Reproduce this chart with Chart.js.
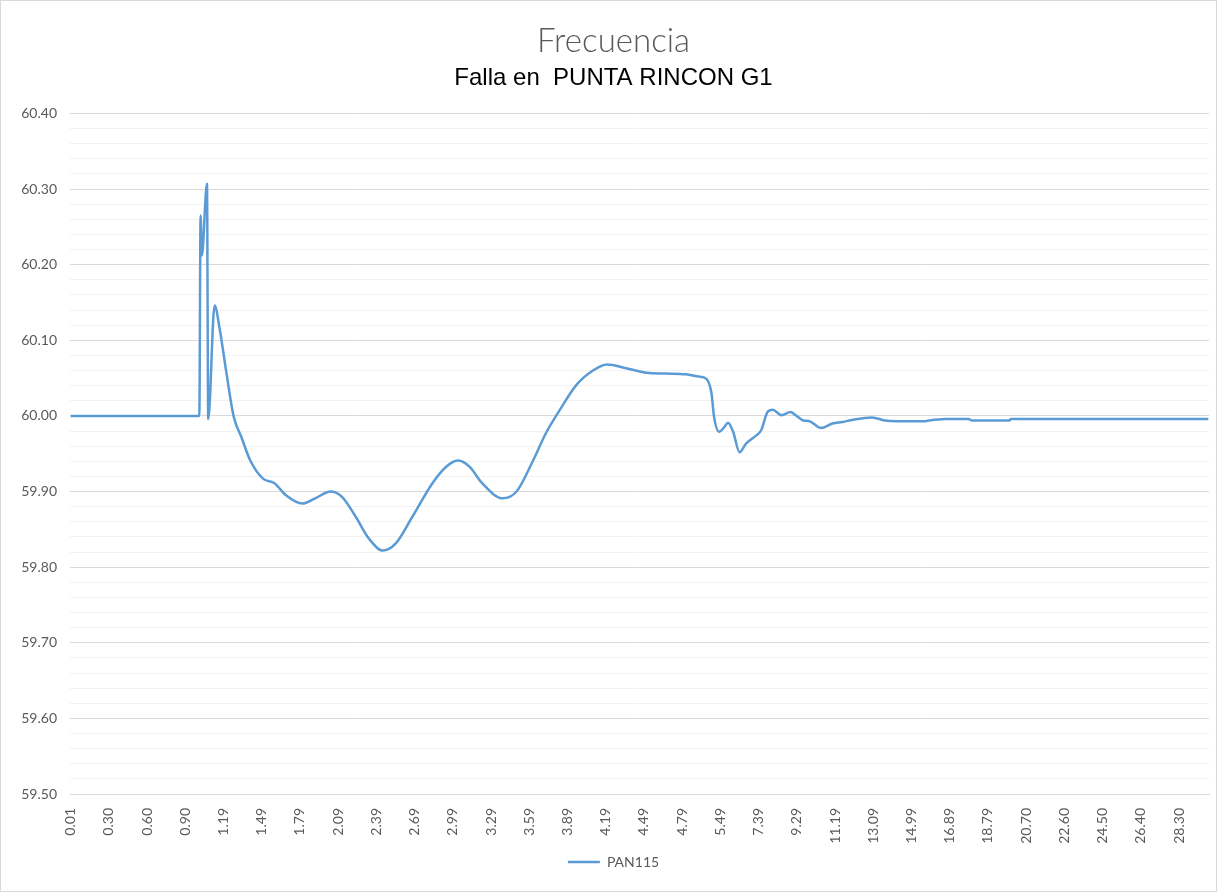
<!DOCTYPE html>
<html>
<head>
<meta charset="utf-8">
<script src="https://cdn.jsdelivr.net/npm/chart.js@4"></script>
<style>
  body { margin: 0; background: #fff; }
</style>
</head>
<body>
<canvas id="frecuencia" width="1217" height="892"></canvas>
<script>
// category labels shown every 30 samples (time in s)
const tickLabels = [
  "0.01", "0.30", "0.60", "0.90", "1.19", "1.49", "1.79", "2.09", "2.39", "2.69",
  "2.99", "3.29", "3.59", "3.89", "4.19", "4.49", "4.79", "5.49", "7.39", "9.29",
  "11.19", "13.09", "14.99", "16.89", "18.79", "20.70", "22.60", "24.50", "26.40", "28.30"
];
const TICK_EVERY = 30;
const LAST_SAMPLE = 893;

// sample number (category index) and frequency in Hz
const sampleIndex = [
  0, 101, 102, 103, 107, 108, 113, 117, 122, 128,
  134, 141, 151, 160, 169, 182, 192, 204, 213, 224,
  234, 245, 255, 268, 284, 295, 304, 313, 323, 339,
  350, 363, 373, 384, 397, 410, 421, 436, 452, 467,
  483, 493, 499, 503, 505, 509, 513, 516, 520, 525,
  530, 538, 542, 547, 551, 558, 565, 569, 575, 580,
  589, 598, 606, 614, 629, 639, 648, 671, 674, 687,
  705, 707, 737, 738, 893
];
const frecuencia = [
  60.000, 60.000, 60.265, 60.212, 60.307, 59.996, 60.146, 60.115, 60.060, 59.999,
  59.972, 59.941, 59.917, 59.911, 59.895, 59.884, 59.891, 59.900, 59.893, 59.866,
  59.838, 59.822, 59.831, 59.866, 59.911, 59.933, 59.941, 59.933, 59.911, 59.891,
  59.900, 59.941, 59.977, 60.008, 60.041, 60.060, 60.068, 60.063, 60.057, 60.056,
  60.055, 60.052, 60.049, 60.030, 59.999, 59.979, 59.985, 59.991, 59.979, 59.952,
  59.963, 59.974, 59.981, 60.005, 60.008, 60.001, 60.005, 60.001, 59.994, 59.993,
  59.984, 59.990, 59.992, 59.995, 59.998, 59.994, 59.993, 59.993, 59.994, 59.996,
  59.996, 59.994, 59.994, 59.996, 59.996
];

const majorGrid = "#d9d9d9";
const minorGrid = "#f2f2f2";
const textGray = "#595959";

function isMajor(v) {
  return Math.round(v * 100) % 10 === 0;
}

// white background + thin frame like the excel chart area
const chartBorder = {
  id: "chartBorder",
  beforeDraw(chart) {
    const { ctx, width, height } = chart;
    ctx.save();
    ctx.fillStyle = "#fff";
    ctx.fillRect(0, 0, width, height);
    ctx.strokeStyle = majorGrid;
    ctx.lineWidth = 1;
    ctx.strokeRect(0.5, 0.5, width - 1, height - 1);
    ctx.restore();
  }
};

new Chart(document.getElementById("frecuencia"), {
  type: "line",
  data: {
    datasets: [{
      label: "PAN115",
      data: sampleIndex.map((x, i) => ({ x: x, y: frecuencia[i] })),
      borderColor: "#5b9bd5",
      backgroundColor: "#5b9bd5",
      borderWidth: 2.5,
      pointRadius: 0,
      cubicInterpolationMode: "monotone",
      fill: false
    }]
  },
  plugins: [chartBorder],
  options: {
    responsive: false,
    animation: false,
    layout: { padding: { left: 18, right: 8, top: 0, bottom: 13 } },
    plugins: {
      title: {
        display: true,
        text: "Frecuencia",
        color: textGray,
        font: { family: "Lato", weight: 300, size: 33 },
        padding: { top: 22, bottom: 2 }
      },
      subtitle: {
        display: true,
        text: "Falla en  PUNTA RINCON G1",
        color: "#000",
        font: { family: "Liberation Sans", size: 24 },
        padding: { top: 0, bottom: 21 }
      },
      legend: {
        position: "bottom",
        labels: {
          usePointStyle: true,
          pointStyle: "line",
          pointStyleWidth: 32,
          color: textGray,
          font: { family: "Lato", size: 14 }
        }
      },
      tooltip: { enabled: false }
    },
    scales: {
      x: {
        type: "linear",
        min: -0.5,
        max: LAST_SAMPLE + 0.5,
        afterBuildTicks: (scale) => {
          scale.ticks = tickLabels.map((_, i) => ({ value: i * TICK_EVERY }));
        },
        afterFit: (scale) => { scale.height = 51; },
        ticks: {
          autoSkip: false,
          minRotation: 90,
          maxRotation: 90,
          padding: 14,
          color: textGray,
          font: { family: "Lato", size: 14 },
          callback: (value, index) => tickLabels[index]
        },
        grid: { display: false, drawTicks: false },
        border: { display: true, color: majorGrid }
      },
      y: {
        min: 59.5,
        max: 60.4,
        afterFit: (scale) => { scale.width = 52; },
        ticks: {
          stepSize: 0.02,
          autoSkip: false,
          padding: 13,
          color: textGray,
          font: { family: "Lato", size: 14 },
          callback: (v) => isMajor(v) ? v.toFixed(2) : ""
        },
        grid: {
          drawTicks: false,
          color: (ctx) => isMajor(ctx.tick.value) ? majorGrid : minorGrid
        },
        border: { display: false }
      }
    }
  }
});
</script>
</body>
</html>
